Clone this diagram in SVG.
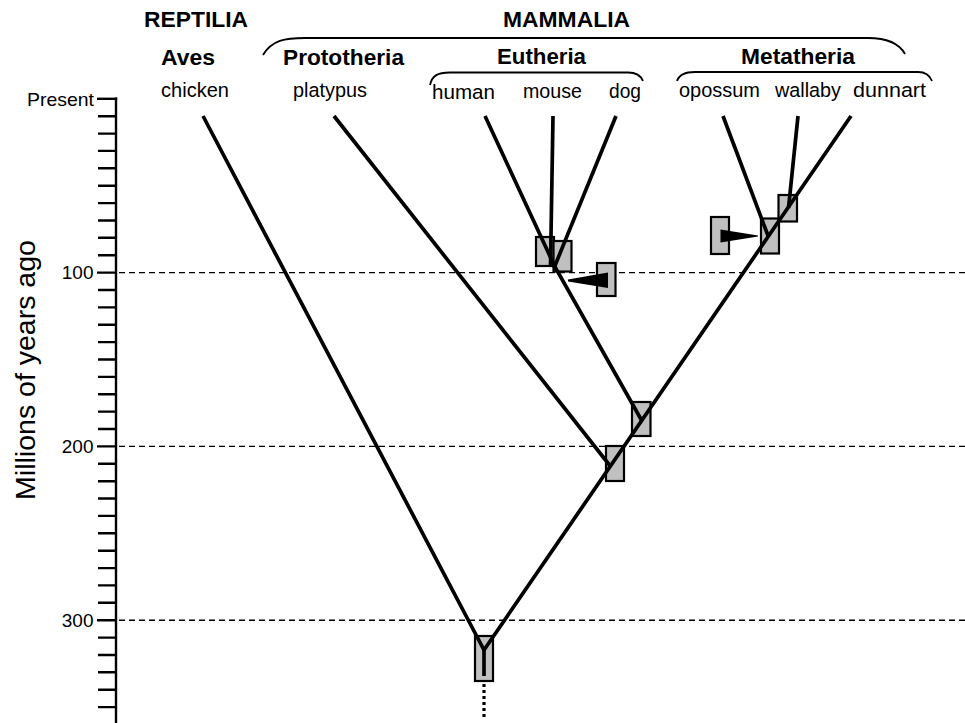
<svg xmlns="http://www.w3.org/2000/svg" width="965" height="723" viewBox="0 0 965 723">
<style>
.b{font-family:"Liberation Sans",Arial,sans-serif;font-weight:bold;font-size:21.5px;fill:#000}
.r{font-family:"Liberation Sans",Arial,sans-serif;font-size:20.5px;fill:#000}
.ax{font-family:"Liberation Sans",Arial,sans-serif;font-size:19px;fill:#000;text-anchor:end}
.br{fill:none;stroke:#000;stroke-width:1.8}
.tk{stroke:#000;stroke-width:2.4}
.dash{stroke:#000;stroke-width:1.4;stroke-dasharray:6,4}
.ln{fill:none;stroke:#000;stroke-width:3.7;stroke-linecap:butt;stroke-linejoin:miter}
.bx{fill:#c0c0c0;stroke:#000;stroke-width:2.2}
.ar{fill:#000}
</style>
<rect width="965" height="723" fill="#fff"/>
<g id="axis">
<line class="tk" x1="116" y1="97.6" x2="116" y2="723"/>
<line class="tk" x1="97" y1="98.8" x2="117.2" y2="98.8"/>
<path class="tk" d="M98 116.2H116M98 133.6H116M98 150.9H116M98 168.3H116M98 185.7H116M98 203.1H116M98 220.5H116M98 237.8H116M98 255.2H116M97 272.6H116M98 290H116M98 307.4H116M98 324.7H116M98 342.1H116M98 359.5H116M98 376.9H116M98 394.3H116M98 411.6H116M98 429H116M97 446.4H116M98 463.8H116M98 481.2H116M98 498.5H116M98 515.9H116M98 533.3H116M98 550.7H116M98 568.1H116M98 585.4H116M98 602.8H116M97 620.2H116M98 637.6H116M98 655H116M98 672.3H116M98 689.7H116M98 707.1H116"/>
<line class="dash" x1="119" y1="272.6" x2="965" y2="272.6"/>
<line class="dash" x1="119" y1="446.4" x2="965" y2="446.4"/>
<line class="dash" x1="119" y1="620.2" x2="965" y2="620.2"/>
<text class="ax" x="94" y="105.5" textLength="67" lengthAdjust="spacingAndGlyphs">Present</text>
<text class="ax" x="93.5" y="279">100</text>
<text class="ax" x="93.5" y="453">200</text>
<text class="ax" x="93.5" y="626.5">300</text>
<text x="35" y="370" transform="rotate(-90 35 370)" style="font-family:'Liberation Sans',Arial,sans-serif;font-size:28.5px;text-anchor:middle">Millions of years ago</text>
</g>
<g id="labels">
<text class="b" x="144" y="27" textLength="104" lengthAdjust="spacingAndGlyphs">REPTILIA</text>
<text class="b" x="503" y="27" textLength="127" lengthAdjust="spacingAndGlyphs">MAMMALIA</text>
<path class="br" d="M263 55C272 40 285 38 305 38H868C890 38 900 45 905 54"/>
<text class="b" x="161" y="65" textLength="54" lengthAdjust="spacingAndGlyphs">Aves</text>
<text class="b" x="283" y="65" textLength="121" lengthAdjust="spacingAndGlyphs">Prototheria</text>
<text class="b" x="497" y="64" textLength="89" lengthAdjust="spacingAndGlyphs">Eutheria</text>
<text class="b" x="741" y="64" textLength="114" lengthAdjust="spacingAndGlyphs">Metatheria</text>
<path class="br" d="M430 85C432 76 437 72.5 450 72.5H628C637 72.5 641 76 643 81"/>
<path class="br" d="M677 81C679 75 684 72 695 72H918C926 72 930 76 932 81"/>
</g>
<g id="tip-chicken"><text class="r" x="161" y="97" textLength="68" lengthAdjust="spacingAndGlyphs">chicken</text></g>
<g id="tip-platypus"><text class="r" x="293" y="97" textLength="74" lengthAdjust="spacingAndGlyphs">platypus</text></g>
<g id="tip-human"><text class="r" x="432" y="98.5" textLength="63" lengthAdjust="spacingAndGlyphs">human</text></g>
<g id="tip-mouse"><text class="r" x="523" y="97.5" textLength="59" lengthAdjust="spacingAndGlyphs">mouse</text></g>
<g id="tip-dog"><text class="r" x="609" y="97.5" textLength="32" lengthAdjust="spacingAndGlyphs">dog</text></g>
<g id="tip-opossum"><text class="r" x="679" y="97" textLength="81" lengthAdjust="spacingAndGlyphs">opossum</text></g>
<g id="tip-wallaby"><text class="r" x="775" y="97" textLength="66" lengthAdjust="spacingAndGlyphs">wallaby</text></g>
<g id="tip-dunnart"><text class="r" x="853" y="97" textLength="73" lengthAdjust="spacingAndGlyphs">dunnart</text></g>
<g id="node-root"><rect class="bx" x="475" y="636" width="18" height="45"/></g>
<g id="node-mammalia"><rect class="bx" x="606" y="446" width="18" height="35"/></g>
<g id="node-therian"><rect class="bx" x="632" y="402" width="18.5" height="34"/></g>
<g id="node-eutheria">
<rect class="bx" x="536" y="237" width="18" height="29"/>
<rect class="bx" x="553.5" y="241" width="18" height="30.5"/>
</g>
<g id="marker-eutheria">
<rect class="bx" x="597" y="263" width="18.5" height="33"/>
<polygon class="ar" points="568,279.5 608,272.5 608,288 568,281.5"/>
</g>
<g id="node-metatheria">
<rect class="bx" x="761" y="218.5" width="18" height="35"/>
<rect class="bx" x="778.5" y="195" width="18.5" height="26.5"/>
</g>
<g id="marker-metatheria">
<rect class="bx" x="711" y="217" width="18" height="37"/>
<polygon class="ar" points="720.5,229.5 720.5,242.5 758,236.5 758,235.5"/>
</g>
<g id="connectors">
<polyline class="ln" points="203,116 484,650 851,116"/>
<line class="ln" x1="334" y1="116" x2="611" y2="467"/>
<polyline class="ln" points="485,116 555,267 642,421"/>
<line class="ln" x1="553" y1="116" x2="550.5" y2="266"/>
<line class="ln" x1="616" y1="116" x2="554" y2="268"/>
<line class="ln" x1="723" y1="116" x2="768.5" y2="237"/>
<line class="ln" x1="798" y1="116" x2="788.5" y2="208"/>
<line class="ln" x1="484" y1="648" x2="484" y2="676"/>
<line x1="484" y1="684" x2="484" y2="717" stroke="#000" stroke-width="3.2" stroke-dasharray="3,3"/>
</g>
</svg>
